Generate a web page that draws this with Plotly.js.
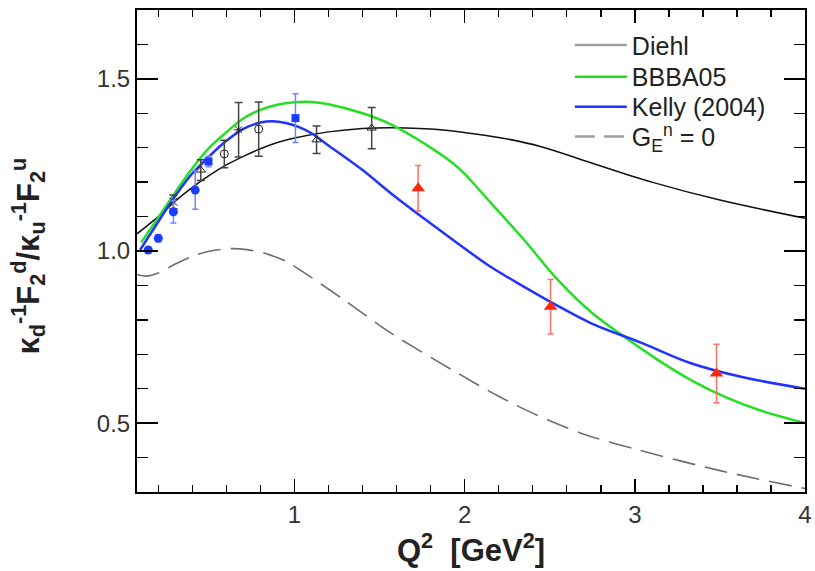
<!DOCTYPE html>
<html>
<head>
<meta charset="utf-8">
<script src="https://cdn.plot.ly/plotly-3.0.1.min.js"></script>
<style>html,body{margin:0;padding:0;background:#fff;}#chart{width:815px;height:571px;}</style>
</head>
<body>
<div id="chart"></div>
<script>
// Curves
const diehlQ = [0.075, 0.2, 0.3, 0.4, 0.5, 0.6, 0.7, 0.8, 0.9, 1.0, 1.2, 1.4, 1.6, 1.8, 2.0, 2.2, 2.45, 2.75, 3.1, 3.5, 4.0];
const diehlV = [1.05, 1.10, 1.145, 1.185, 1.22, 1.25, 1.275, 1.297, 1.315, 1.328, 1.346, 1.356, 1.358, 1.354, 1.344, 1.33, 1.303, 1.255, 1.20, 1.148, 1.095];

const bbbaQ = [0.1, 0.2, 0.3, 0.4, 0.5, 0.6, 0.7, 0.8, 0.9, 1.0, 1.1, 1.2, 1.4, 1.566, 1.76, 1.96, 2.155, 2.35, 2.548, 2.744, 2.94, 3.137, 3.33, 3.53, 3.73, 4.0];
const bbbaV = [1.025, 1.097, 1.17, 1.24, 1.30, 1.345, 1.385, 1.41, 1.425, 1.432, 1.433, 1.426, 1.40, 1.368, 1.313, 1.243, 1.139, 1.032, 0.916, 0.822, 0.75, 0.683, 0.625, 0.576, 0.538, 0.50];

const kellyQ = [0.093, 0.2, 0.3, 0.4, 0.5, 0.6, 0.7, 0.8, 0.87, 0.95, 1.02, 1.1, 1.21, 1.4, 1.566, 1.76, 1.96, 2.15, 2.35, 2.55, 2.744, 3.04, 3.33, 3.63, 4.0];
const kellyV = [1.003, 1.085, 1.16, 1.225, 1.275, 1.32, 1.355, 1.373, 1.377, 1.372, 1.361, 1.342, 1.303, 1.235, 1.168, 1.095, 1.022, 0.955, 0.896, 0.84, 0.79, 0.733, 0.674, 0.634, 0.60];

const gen0Q = [0.075, 0.13, 0.2, 0.3, 0.43, 0.53, 0.63, 0.72, 0.82, 0.95, 1.094, 1.3, 1.566, 1.96, 2.2, 2.43, 2.7, 3.0, 3.5, 4.0];
const gen0V = [0.932, 0.927, 0.936, 0.962, 0.99, 1.002, 1.007, 1.004, 0.994, 0.97, 0.925, 0.855, 0.762, 0.645, 0.578, 0.522, 0.468, 0.425, 0.362, 0.31];

// Data points
const blueCircQ = [0.141, 0.2, 0.289, 0.417];
const blueCircV = [1.003, 1.037, 1.114, 1.177];
const blueCircE = [0.008, 0.01, 0.033, 0.056];

const blueSqQ = [0.495, 1.006];
const blueSqV = [1.26, 1.386];
const blueSqE = [0.015, 0.071];

const blackQ = [0.289, 0.45, 0.588, 0.672, 0.79, 1.13, 1.454];
const blackV = [1.143, 1.235, 1.282, 1.352, 1.354, 1.323, 1.357];
const blackE = [0.02, 0.03, 0.04, 0.079, 0.079, 0.04, 0.06];
const blackSym = ['x-thin-open', 'triangle-up-open', 'circle-open', 'asterisk-open', 'circle-open', 'triangle-up-open', 'triangle-up-open'];

const redQ = [1.727, 2.505, 3.48];
const redV = [1.182, 0.838, 0.644];
const redE = [0.066, 0.079, 0.085];

const legendNames = ['Diehl', 'BBBA05', 'Kelly (2004)', 'G<sub>E</sub><sup>n</sup> = 0'];
const xTitle = '<b>Q<sup>2</sup>  [GeV<sup>2</sup>]</b>';
const yTitle = '<b>κ<sub>d</sub><sup>-1</sup>F<sub>2</sub><sup>d</sup>/κ<sub>u</sub><sup>-1</sup>F<sub>2</sub><sup>u</sup></b>';

const FONT = '"Liberation Sans", Arial, Helvetica, sans-serif';

const traces = [
  {x: gen0Q, y: gen0V, mode: 'lines', line: {color: '#6e6e6e', width: 1.6, dash: '23px,10px', shape: 'spline', smoothing: 0.8}, showlegend: false},
  {x: diehlQ, y: diehlV, mode: 'lines', line: {color: '#111111', width: 1.5, shape: 'spline'}, showlegend: false},
  {x: bbbaQ, y: bbbaV, mode: 'lines', line: {color: '#22e022', width: 2.5, shape: 'spline'}, showlegend: false},
  {x: kellyQ, y: kellyV, mode: 'lines', line: {color: '#2233ff', width: 2.5, shape: 'spline'}, showlegend: false},
  {x: blackQ, y: blackV, mode: 'markers', marker: {symbol: blackSym, size: 8, color: '#222', line: {color: '#222', width: 1}},
   error_y: {type: 'data', array: blackE, color: '#444', thickness: 1.5, width: 4}, showlegend: false},
  {x: blueCircQ, y: blueCircV, mode: 'markers', marker: {symbol: 'circle', size: 9, color: '#1a3cff'},
   error_y: {type: 'data', array: blueCircE, color: '#6f86ff', thickness: 1.5, width: 3}, showlegend: false},
  {x: blueSqQ, y: blueSqV, mode: 'markers', marker: {symbol: 'square', size: 8, color: '#1a3cff'},
   error_y: {type: 'data', array: blueSqE, color: '#6f86ff', thickness: 1.5, width: 3}, showlegend: false},
  {x: redQ, y: redV, mode: 'markers', marker: {symbol: 'triangle-up', size: 12, color: '#ff2a10'},
   error_y: {type: 'data', array: redE, color: '#ff7060', thickness: 1.5, width: 3}, showlegend: false},
  {x: [null], y: [null], mode: 'lines', name: legendNames[0], legend: 'legend', line: {color: '#a0a0a0', width: 2.5}},
  {x: [null], y: [null], mode: 'lines', name: legendNames[1], legend: 'legend2', line: {color: '#22e022', width: 2.5}},
  {x: [null], y: [null], mode: 'lines', name: legendNames[2], legend: 'legend3', line: {color: '#2233ff', width: 2.5}},
  {x: [null], y: [null], mode: 'lines', name: legendNames[3], legend: 'legend4', line: {color: '#a0a0a0', width: 2.5, dash: '20px,9px'}}
];

function leg(y) {
  return {x: 0.648, y: y, xanchor: 'left', yanchor: 'middle', bgcolor: 'rgba(0,0,0,0)', borderwidth: 0,
          itemwidth: 52, font: {family: FONT, size: 25, color: '#222'}};
}

const layout = {
  width: 815, height: 571,
  margin: {l: 137, r: 10, t: 10, b: 79},
  paper_bgcolor: '#fff', plot_bgcolor: '#fff',
  font: {family: FONT, size: 24, color: '#222'},
  showlegend: true,
  legend: leg(0.927), legend2: leg(0.861), legend3: leg(0.799), legend4: leg(0.737),
  xaxis: {
    range: [0.075, 4.0], showgrid: false, zeroline: false,
    showline: true, linecolor: '#000', linewidth: 2, mirror: 'allticks',
    ticks: 'inside', ticklen: 13, tickwidth: 1.5, tickcolor: '#000',
    tick0: 0, dtick: 1, tickfont: {family: FONT, size: 24, color: '#333'},
    minor: {dtick: 0.2, ticks: 'inside', ticklen: 7, tickwidth: 1.5, tickcolor: '#000', showgrid: false},
    title: {text: xTitle, font: {family: FONT, size: 31, color: '#222'}, standoff: 8}
  },
  yaxis: {
    range: [0.3, 1.7], showgrid: false, zeroline: false,
    showline: true, linecolor: '#000', linewidth: 2, mirror: 'allticks',
    ticks: 'inside', ticklen: 21, tickwidth: 1.5, tickcolor: '#000',
    tick0: 0, dtick: 0.5, tickformat: '.1f', tickfont: {family: FONT, size: 24, color: '#333'},
    minor: {dtick: 0.1, ticks: 'inside', ticklen: 11, tickwidth: 1.5, tickcolor: '#000', showgrid: false}
  },
  annotations: [
    {text: yTitle, xref: 'paper', yref: 'paper', x: -0.162, y: 0.49, xanchor: 'center', yanchor: 'middle',
     textangle: -90, showarrow: false, font: {family: FONT, size: 31, color: '#222'}}
  ]
};

Plotly.newPlot('chart', traces, layout, {displayModeBar: false, staticPlot: true});
</script>
</body>
</html>
